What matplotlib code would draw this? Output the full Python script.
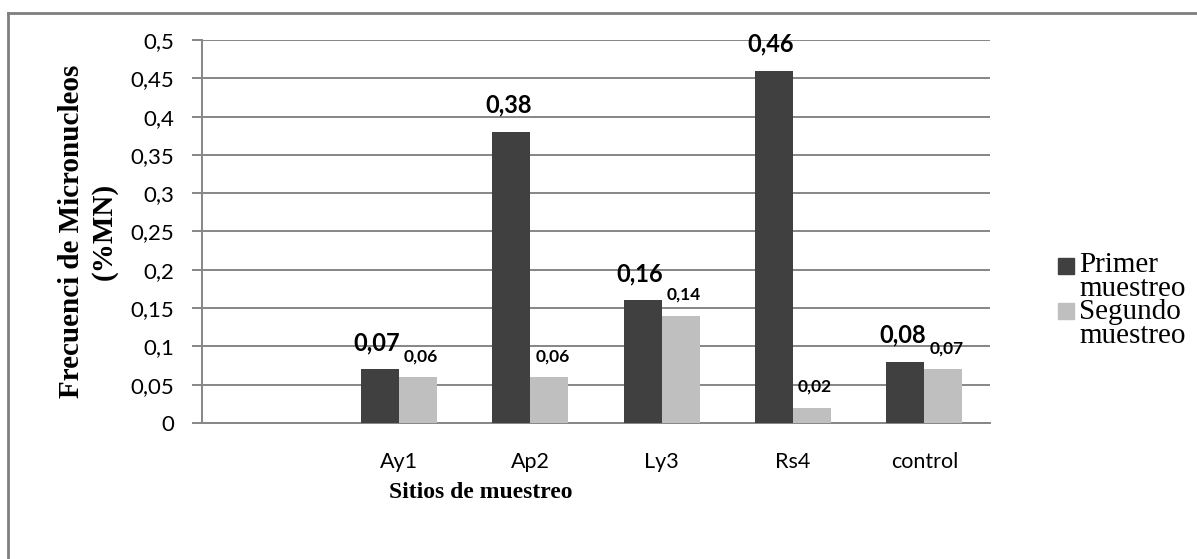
import numpy as np
import matplotlib
matplotlib.use("Agg")
import matplotlib.pyplot as plt
from matplotlib.patches import Rectangle
from matplotlib.lines import Line2D
from matplotlib.ticker import FuncFormatter, MultipleLocator

categories = ["", "Ay1", "Ap2", "Ly3", "Rs4", "control"]
primer = [np.nan, 0.07, 0.38, 0.16, 0.46, 0.08]
segundo = [np.nan, 0.06, 0.06, 0.14, 0.02, 0.07]
series_names = ["Primer muestreo", "Segundo muestreo"]
y_title = "Frecuenci de Micronucleos\n(%MN)"
x_title = "Sitios de muestreo"

dark = "#404040"
light = "#BFBFBF"
grid_c = "#868686"
num_font = "Lato"
serif = "Liberation Serif"

W, H = 1197, 559
fig = plt.figure(figsize=(W / 100, H / 100), dpi=100)
ax = fig.add_axes([202 / W, (H - 423) / H, (990 - 202) / W, (423 - 40) / H])

x = np.arange(len(categories))
bw = 0.29
ax.bar(x - bw / 2, primer, bw, color=dark, zorder=3)
ax.bar(x + bw / 2, segundo, bw, color=light, zorder=3)

def tickfmt(v):
    s = f"{v:.2f}".rstrip("0").rstrip(".")
    return s.replace(".", ",")

def labfmt(v):
    return f"{v:.2f}".replace(".", ",")

px = 72 / 100  # points per pixel
for xi, v in zip(x, primer):
    if not np.isnan(v):
        ax.annotate(labfmt(v), (xi - bw / 2, v), xytext=(-3 * px, 19 * px),
                    textcoords="offset points", ha="center", va="baseline",
                    fontsize=17, fontweight="bold", family=num_font, zorder=5)
for xi, v in zip(x, segundo):
    if not np.isnan(v):
        ax.annotate(labfmt(v), (xi + bw / 2, v), xytext=(3 * px, 16 * px),
                    textcoords="offset points", ha="center", va="baseline",
                    fontsize=12.5, fontweight="bold", family=num_font, zorder=5)

ax.set_xlim(-0.5, len(categories) - 0.5)
ax.set_ylim(0, 0.5)
ax.yaxis.set_major_locator(MultipleLocator(0.05))
ax.yaxis.set_major_formatter(FuncFormatter(lambda v, p: tickfmt(round(v, 2))))
ax.set_xticks(x)
ax.set_xticklabels(categories)
ax.grid(axis="y", color=grid_c, linewidth=1.4, zorder=0)
for s in ["top", "right"]:
    ax.spines[s].set_visible(False)
for s in ["left", "bottom"]:
    ax.spines[s].set_color(grid_c)
    ax.spines[s].set_linewidth(1.4)
ax.tick_params(axis="y", length=7, width=1.4, color=grid_c, pad=13, labelsize=16)
ax.tick_params(axis="x", length=0, pad=21, labelsize=15.5)
for lab in ax.get_xticklabels() + ax.get_yticklabels():
    lab.set_family(num_font)

# axis titles
fig.text(481 / W, 1 - 492 / H, x_title, family=serif, fontweight="bold",
         fontsize=17, ha="center", va="center")
fig.text(88 / W, 1 - 231 / H, y_title, family=serif, fontweight="bold",
         fontsize=21, ha="center", va="center", rotation=90,
         multialignment="center", linespacing=1.25)

# legend drawn manually: square beside first line of each wrapped label
legend_lines = []
for i, (name, col) in enumerate(zip(series_names, [dark, light])):
    yc = 266 + i * 45
    fig.patches.append(Rectangle((1058 / W, (H - yc - 8) / H), 16 / W, 16 / H,
                                 transform=fig.transFigure, color=col))
    legend_lines.extend(name.split(" "))
fig.text(1079 / W, 1 - 252 / H, "\n".join(legend_lines), family=serif,
         fontsize=21, va="top", ha="left", linespacing=0.88)

# outer frame (top and left only)
fig.add_artist(Line2D([8 / W, 1], [1 - 13 / H, 1 - 13 / H], color="#7f7f7f", lw=2,
                      transform=fig.transFigure))
fig.add_artist(Line2D([8 / W, 8 / W], [0, 1 - 13 / H], color="#7f7f7f", lw=2,
                      transform=fig.transFigure))

fig.savefig("out.png", dpi=100)
